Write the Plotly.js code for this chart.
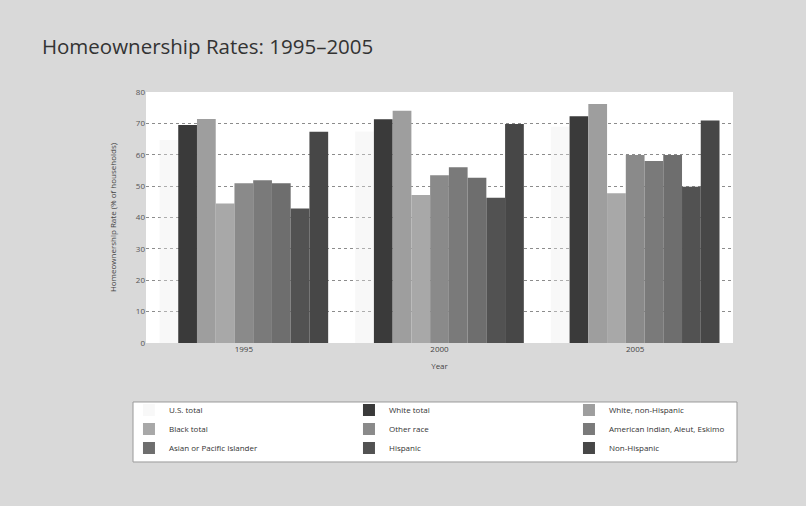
<!DOCTYPE html>
<html>
<head>
<meta charset="utf-8">
<script src="https://cdn.plot.ly/plotly-3.0.1.min.js"></script>
<style>
  html, body { margin: 0; padding: 0; background: #d9d9d9; }
  #chart { width: 806px; height: 506px; }
</style>
</head>
<body>
<div id="chart"></div>
<script>
// Homeownership rates (percent of households) by group of householder
const years = ['1995', '2000', '2005'];

const seriesNames = [
  'U.S. total',
  'White total',
  'White, non-Hispanic',
  'Black total',
  'Other race',
  'American Indian, Aleut, Eskimo',
  'Asian or Pacific Islander',
  'Hispanic',
  'Non-Hispanic'
];

const usTotal        = [64.7, 67.4, 68.9];
const whiteTotal     = [69.5, 71.3, 72.3];
const whiteNonHisp   = [71.4, 74.0, 76.2];
const blackTotal     = [44.5, 47.2, 47.7];
const otherRace      = [50.9, 53.5, 59.9];
const amIndian       = [51.9, 56.0, 58.0];
const asianPacific   = [50.9, 52.7, 59.9];
const hispanic       = [42.9, 46.3, 49.8];
const nonHispanic    = [67.3, 69.8, 70.9];

const seriesValues = [usTotal, whiteTotal, whiteNonHisp, blackTotal, otherRace,
                      amIndian, asianPacific, hispanic, nonHispanic];

const seriesColors = [
  'rgba(235,235,235,0.35)',
  '#3a3a3a',
  '#9e9e9e',
  '#a8a8a8',
  '#8a8a8a',
  '#7a7a7a',
  '#6e6e6e',
  '#525252',
  '#474747'
];

const traces = seriesNames.map((name, i) => ({
  type: 'bar',
  name: name,
  x: years,
  y: seriesValues[i],
  marker: { color: seriesColors[i], line: { width: 0 } },
  hovertemplate: '%{x}: %{y:.1f}%<extra>' + name + '</extra>'
}));

const layout = {
  width: 806,
  height: 506,
  paper_bgcolor: '#d9d9d9',
  plot_bgcolor: '#ffffff',
  margin: { l: 146, r: 73, t: 92, b: 163 },
  font: { family: 'Open Sans, Arial, sans-serif', color: '#444' },
  title: {
    text: 'Homeownership Rates: 1995\u20132005',
    x: 0.052, xanchor: 'left',
    yref: 'container', y: 0.907, yanchor: 'middle',
    font: { size: 20.5, color: '#333' }
  },
  barmode: 'group',
  bargap: 0.138,
  bargroupgap: 0,
  xaxis: {
    type: 'category',
    title: { text: 'Year', font: { size: 8, color: '#444' }, standoff: 10 },
    tickfont: { size: 8, color: '#444' },
    showgrid: false,
    zeroline: false,
    showline: false,
    ticks: ''
  },
  yaxis: {
    range: [0, 80],
    dtick: 10,
    title: { text: 'Homeownership Rate (% of households)', font: { size: 8, color: '#444' }, standoff: 18 },
    tickfont: { size: 8, color: '#555' },
    showgrid: true,
    gridcolor: '#8c8c8c',
    gridwidth: 1,
    griddash: 'dot',
    zeroline: false,
    showline: false,
    ticks: ''
  },
  showlegend: true,
  legend: {
    orientation: 'h',
    x: -0.029, xanchor: 'left',
    y: -0.209, yanchor: 'top',
    entrywidth: 175,
    bgcolor: 'rgba(0,0,0,0)',
    borderwidth: 0,
    font: { size: 8, color: '#333' },
    traceorder: 'normal'
  },
  shapes: [
    {
      type: 'rect', xref: 'paper', yref: 'paper',
      x0: -0.0221, x1: 1.0068, y0: -0.474, y1: -0.235,
      fillcolor: '#ffffff',
      line: { color: '#9a9a9a', width: 1 },
      layer: 'below'
    }
  ]
};

Plotly.newPlot('chart', traces, layout, { displayModeBar: false, staticPlot: true });
</script>
</body>
</html>
